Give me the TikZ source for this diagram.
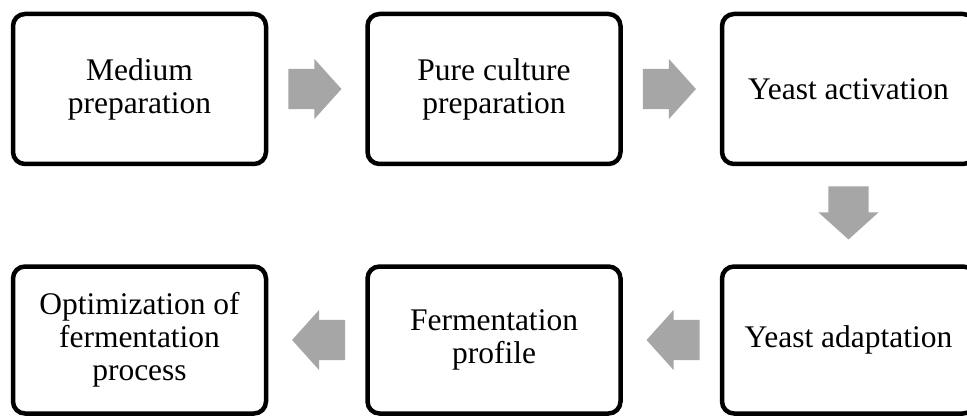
\documentclass[tikz,border=0pt]{standalone}
\usepackage{fontspec}
\setmainfont{Liberation Serif}
\usetikzlibrary{shapes.arrows,calc}
\definecolor{arrowgray}{RGB}{166,166,166}

\begin{document}
\begin{tikzpicture}[x=1pt,y=-1pt,
stepbox/.style={draw, line width=4.5pt, rounded corners=12pt, minimum width=253pt, minimum height=150pt, align=center, inner sep=0pt, font=\fontsize{31.5}{33}\selectfont},
flowarrow/.style={single arrow, fill=arrowgray, draw=none, anchor=tail, inner xsep=0pt, inner ysep=20pt, minimum height=53pt, minimum width=60pt, single arrow head extend=10pt, single arrow tip angle=96}]
\clip (0,0) rectangle (967,417);
% top row
\node [stepbox] (medium) at (139.5,89) {Medium\\preparation};
\node [stepbox] (pure) at (494,89) {Pure culture\\preparation};
\node [stepbox] (activ) at (848.5,89) {Yeast activation};
% bottom row
\node [stepbox, minimum height=147pt] (adapt) at (848.5,340) {Yeast adaptation};
\node [stepbox, minimum height=147pt] (profile) at (494,340) {Fermentation\\profile};
\node [stepbox, minimum height=147pt] (optim) at (139.5,340) {Optimization of\\fermentation\\process};

\node [flowarrow] (a1) at ($(medium.east)+(20,0)$) {};
\node [flowarrow] (a2) at ($(pure.east)+(20,0)$) {};
\node [flowarrow, shape border rotate=270, inner xsep=20pt, inner ysep=0pt] (a3) at ($(activ.south)+(0,20)$) {};
\node [flowarrow, shape border rotate=180] (a4) at ($(adapt.west)+(-20,0)$) {};
\node [flowarrow, shape border rotate=180] (a5) at ($(profile.west)+(-20,0)$) {};
\end{tikzpicture}
\end{document}
